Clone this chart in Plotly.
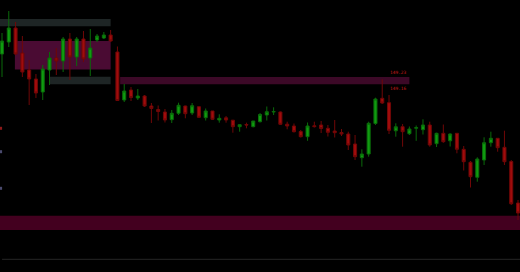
import plotly.graph_objects as go

# --- price bars -------------------------------------------------------------
bar_index = list(range(77))

open_ = [149.46, 149.58, 149.72, 149.47, 149.30, 149.21, 149.08, 149.30, 149.42, 149.39,
         149.61, 149.43, 149.61, 149.42, 149.60, 149.62, 149.65, 149.48, 149.00, 149.10,
         149.02, 149.04, 148.94, 148.905, 148.88, 148.803, 148.867, 148.94, 148.87, 148.933,
         148.823, 148.89, 148.80, 148.822, 148.798, 148.733, 148.755, 148.733, 148.783, 148.85,
         148.88, 148.88, 148.758, 148.74, 148.685, 148.633, 148.742, 148.75, 148.717, 148.69,
         148.675, 148.66, 148.56, 148.423, 148.46, 148.765, 149.017, 148.973, 148.692, 148.733,
         148.663, 148.718, 148.703, 148.75, 148.563, 148.667, 148.592, 148.667, 148.507, 148.377,
         148.227, 148.40, 148.573, 148.617, 148.527, 148.385, 147.97]
high = [149.67, 149.89, 149.78, 149.64, 149.40, 149.26, 149.35, 149.48, 149.52, 149.63,
        149.67, 149.63, 149.69, 149.71, 149.66, 149.68, 149.70, 149.535, 149.16, 149.13,
        149.11, 149.05, 148.97, 148.945, 148.91, 148.90, 148.973, 148.943, 148.97, 148.933,
        148.915, 148.89, 148.857, 148.84, 148.80, 148.755, 148.773, 148.79, 148.87, 148.935,
        148.927, 148.885, 148.783, 148.765, 148.70, 148.775, 148.783, 148.79, 148.75, 148.80,
        148.71, 148.683, 148.65, 148.507, 148.783, 149.023, 149.207, 149.05, 148.767, 148.76,
        148.735, 148.745, 148.807, 148.783, 148.673, 148.755, 148.667, 148.667, 148.54, 148.39,
        148.427, 148.627, 148.683, 148.617, 148.693, 148.40, 148.00]
low = [149.23, 149.53, 149.45, 149.23, 148.95, 149.02, 149.00, 149.15, 149.25, 149.28,
       149.20, 149.34, 149.38, 149.24, 149.58, 149.61, 149.58, 148.99, 148.98, 148.99,
       149.00, 148.93, 148.77, 148.795, 148.775, 148.77, 148.85, 148.817, 148.85, 148.823,
       148.795, 148.80, 148.773, 148.773, 148.673, 148.683, 148.717, 148.727, 148.775, 148.795,
       148.85, 148.75, 148.707, 148.675, 148.625, 148.592, 148.725, 148.67, 148.635, 148.625,
       148.64, 148.50, 148.40, 148.333, 148.433, 148.75, 148.96, 148.66, 148.633, 148.533,
       148.65, 148.592, 148.655, 148.533, 148.53, 148.572, 148.535, 148.467, 148.295, 148.125,
       148.183, 148.35, 148.533, 148.483, 148.35, 147.95, 147.80]
close = [149.59, 149.72, 149.46, 149.28, 149.21, 149.07, 149.31, 149.42, 149.39, 149.61,
         149.43, 149.61, 149.41, 149.52, 149.64, 149.65, 149.59, 148.995, 149.09, 149.025,
         149.04, 148.94, 148.915, 148.885, 148.80, 148.867, 148.947, 148.863, 148.943, 148.827,
         148.89, 148.807, 148.817, 148.80, 148.733, 148.753, 148.75, 148.79, 148.855, 148.883,
         148.885, 148.757, 148.74, 148.683, 148.633, 148.74, 148.734, 148.715, 148.677, 148.673,
         148.66, 148.55, 148.433, 148.46, 148.767, 149.01, 148.97, 148.697, 148.732, 148.683,
         148.71, 148.723, 148.75, 148.55, 148.667, 148.583, 148.66, 148.507, 148.383, 148.233,
         148.41, 148.573, 148.617, 148.523, 148.383, 147.963, 147.87]

# --- zones: bar span and price band ----------------------------------------
zone_from = [-1.0, 7.0, 1.9, 17.4, -1.0]
zone_to = [16.0, 16.0, 16.0, 60.0, 78.0]
zone_top = [149.81, 149.233, 149.59, 149.23, 147.843]
zone_bottom = [149.737, 149.157, 149.305, 149.157, 147.70]
zone_fill = ["#1e2525", "#1e2525", "#4a0b33", "#3c0927", "#43001f"]

# price tags at the end of the resistance band
tag_prices = [149.23, 149.157]
tag_text = ["149.23", "149.16"]

# alert markers on the left edge
alert_prices = [148.717, 148.483, 148.117]
alert_colors = ["#8c1a1a", "#4a4a6e", "#4a4a6e"]

# thin reference rule near the bottom
rule_price = 147.407

fig = go.Figure()

fig.add_trace(go.Candlestick(
    x=bar_index, open=open_, high=high, low=low, close=close,
    increasing=dict(fillcolor="#109c10", line=dict(color="#0a6a0a", width=1)),
    decreasing=dict(fillcolor="#a00c0c", line=dict(color="#700707", width=1)),
    whiskerwidth=0,
    hoverinfo="skip",
))

for x0, x1, y1, y0, col in zip(zone_from, zone_to, zone_top, zone_bottom, zone_fill):
    fig.add_shape(type="rect", xref="x", yref="y", x0=x0, x1=x1, y0=y0, y1=y1,
                  fillcolor=col, line=dict(width=0), layer="below")

tag_font = dict(size=4.5, color="#c41818", family="DejaVu Sans Mono")
fig.add_annotation(x=zone_to[3], y=tag_prices[0], xref="x", yref="y",
                   text=tag_text[0], showarrow=False, xanchor="right", yanchor="bottom",
                   font=tag_font)
fig.add_annotation(x=zone_to[3], y=tag_prices[1], xref="x", yref="y",
                   text=tag_text[1], showarrow=False, xanchor="right", yanchor="top",
                   font=tag_font)

for p, col in zip(alert_prices, alert_colors):
    fig.add_shape(type="rect", xref="paper", yref="y", x0=0, x1=0.004,
                  y0=p - 0.015, y1=p + 0.015, fillcolor=col, line=dict(width=0))

fig.add_shape(type="line", xref="paper", yref="y", x0=0.004, x1=1,
              y0=rule_price, y1=rule_price, line=dict(color="#262626", width=1))

fig.update_layout(
    width=520, height=272,
    margin=dict(l=0, r=0, t=0, b=0),
    paper_bgcolor="#000000", plot_bgcolor="#000000",
    showlegend=False,
    boxgap=0.36,
    xaxis=dict(visible=False, range=[-0.295, 76.29], rangeslider=dict(visible=False)),
    yaxis=dict(visible=False, range=[147.28, 150.0]),
)

fig.write_html("out.html")
